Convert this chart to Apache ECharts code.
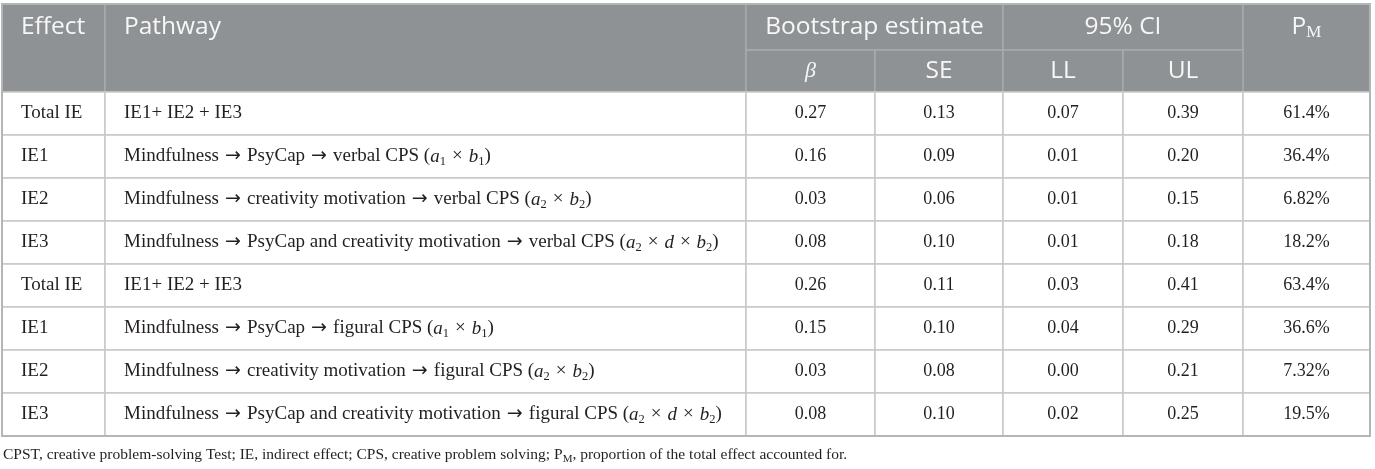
<!DOCTYPE html>
<html>
<head>
<meta charset="utf-8">
<script src="https://cdn.jsdelivr.net/npm/echarts@6/dist/echarts.min.js"></script>
<style>
    html, body { margin: 0; padding: 0; background: #fff; }
    #table-chart { width: 1375px; height: 469px; }
</style>
</head>
<body>
<div id="table-chart"></div>
<script>
// 表格数据
const effects = ["Total IE", "IE1", "IE2", "IE3", "Total IE", "IE1", "IE2", "IE3"]
const pathways = [
    "IE1+ IE2 + IE3",
    "Mindfulness → PsyCap → verbal CPS (a1 × b1)",
    "Mindfulness → creativity motivation → verbal CPS (a2 × b2)",
    "Mindfulness → PsyCap and creativity motivation → verbal CPS (a2 × d × b2)",
    "IE1+ IE2 + IE3",
    "Mindfulness → PsyCap → figural CPS (a1 × b1)",
    "Mindfulness → creativity motivation → figural CPS (a2 × b2)",
    "Mindfulness → PsyCap and creativity motivation → figural CPS (a2 × d × b2)",
]
const beta = [0.27, 0.16, 0.03, 0.08, 0.26, 0.15, 0.03, 0.08]
const se = [0.13, 0.09, 0.06, 0.10, 0.11, 0.10, 0.08, 0.10]
const ll = [0.07, 0.01, 0.01, 0.01, 0.03, 0.04, 0.00, 0.02]
const ul = [0.39, 0.20, 0.15, 0.18, 0.41, 0.29, 0.21, 0.25]
const pm = [61.4, 36.4, 6.82, 18.2, 63.4, 36.6, 7.32, 19.5]
const footnote = "CPST, creative problem-solving Test; IE, indirect effect; CPS, creative problem solving; P{fsub|M}, proportion of the total effect accounted for."

// 布局
const W = 1375, H = 469
const colEdges = [2, 105, 746, 875, 1003, 1123, 1243, 1370]
const headTop = 4, headMid = 50, headBottom = 92, rowH = 43
const padLeft = 19

const serif = "'Liberation Serif', 'Times New Roman', serif"
const sans = "'Open Sans', 'Noto Sans', sans-serif"
const headFill = "#8e9294", headLine = "#a6aaac", headText = "#f7f7f7"
const bodyLine = "#c6c9c8", bodyText = "#231f20"
const textSize = 19, numSize = 18, headSize = 24.5

// 箭头和公式部分 (a1 × b1) 转成富文本
function formula(s) {
    return s
        .replace(/\(([^)]*)\)/, (m, inner) =>
            "(" + inner
                .replace(/([abd])(\d?)/g, (t, v, n) => "{it|" + v + "}" + (n ? "{sub|" + n + "}" : ""))
                .replace(/ × /g, "{x|×}") + ")")
        .replace(/ → /g, "{arr| → }")
}

const cells = []
function cell(c0, c1, y0, y1, text, opt) {
    cells.push(Object.assign({ x0: colEdges[c0], x1: colEdges[c1], y0, y1, text }, opt))
}
// 表头
cell(0, 1, headTop, headBottom, "Effect", { head: true, align: "left", ty: (headTop + headMid) / 2 })
cell(1, 2, headTop, headBottom, "Pathway", { head: true, align: "left", ty: (headTop + headMid) / 2 })
cell(2, 4, headTop, headMid, "Bootstrap estimate", { head: true })
cell(4, 6, headTop, headMid, "95% CI", { head: true })
cell(6, 7, headTop, headBottom, "P{hsub|M}", { head: true, ty: (headTop + headMid) / 2 })
cell(2, 3, headMid, headBottom, "{beta|β}", { head: true })
cell(3, 4, headMid, headBottom, "SE", { head: true })
cell(4, 5, headMid, headBottom, "LL", { head: true })
cell(5, 6, headMid, headBottom, "UL", { head: true })
// 数据行
effects.forEach((e, i) => {
    const y0 = headBottom + i * rowH, y1 = y0 + rowH
    cell(0, 1, y0, y1, e, { align: "left", fs: textSize })
    cell(1, 2, y0, y1, formula(pathways[i]), { align: "left", fs: textSize })
    cell(2, 3, y0, y1, beta[i].toFixed(2))
    cell(3, 4, y0, y1, se[i].toFixed(2))
    cell(4, 5, y0, y1, ll[i].toFixed(2))
    cell(5, 6, y0, y1, ul[i].toFixed(2))
    cell(6, 7, y0, y1, pm[i] + "%")
})

const rich = {
    it: { fontFamily: serif, fontStyle: "italic", fontSize: textSize, lineHeight: 24, fill: bodyText },
    sub: { fontFamily: serif, fontSize: 12.5, lineHeight: 13, verticalAlign: "bottom", fill: bodyText },
    x: { fontFamily: serif, fontSize: textSize, lineHeight: 24, padding: [0, 6, 0, 6], fill: bodyText },
    arr: { fontFamily: "'DejaVu Sans', sans-serif", fontSize: 19, lineHeight: 24, fill: bodyText },
    hsub: { fontFamily: serif, fontSize: 17, lineHeight: 16, verticalAlign: "bottom", fill: headText },
    beta: { fontFamily: serif, fontStyle: "italic", fontSize: 22, lineHeight: 28, fill: headText },
    fsub: { fontFamily: serif, fontSize: 11, lineHeight: 12, verticalAlign: "bottom", fill: bodyText },
}

const chart = echarts.init(document.getElementById("table-chart"), null, { renderer: "canvas" })
chart.setOption({
    animation: false,
    grid: { left: 0, right: 0, top: 0, bottom: 0 },
    xAxis: { type: "value", min: 0, max: W, show: false },
    yAxis: { type: "value", min: 0, max: H, inverse: true, show: false },
    series: [{
        type: "custom",
        coordinateSystem: "cartesian2d",
        encode: { x: [0, 2], y: [1, 3] },
        data: cells.map(c => [c.x0, c.y0, c.x1, c.y1]),
        renderItem(params, api) {
            const c = cells[params.dataIndex]
            const p0 = api.coord([api.value(0), api.value(1)])
            const p1 = api.coord([api.value(2), api.value(3)])
            const ty = c.ty != null ? api.coord([0, c.ty])[1] : (p0[1] + p1[1]) / 2
            const tx = c.align === "left" ? p0[0] + padLeft : (p0[0] + p1[0]) / 2
            return {
                type: "group",
                children: [
                    {
                        type: "rect",
                        shape: { x: p0[0], y: p0[1], width: p1[0] - p0[0], height: p1[1] - p0[1] },
                        style: { fill: c.head ? headFill : "#fff", stroke: c.head ? headLine : bodyLine, lineWidth: 1.5 },
                    },
                    {
                        type: "text",
                        x: tx,
                        y: ty,
                        style: {
                            text: c.text,
                            fontFamily: c.head ? sans : serif,
                            fontSize: c.head ? headSize : (c.fs || numSize),
                            lineHeight: c.head ? 28 : 24,
                            fill: c.head ? headText : bodyText,
                            align: c.align || "center",
                            verticalAlign: "middle",
                            rich,
                        },
                    },
                ],
            }
        },
    }],
    graphic: [
        {
            type: "rect",
            shape: { x: colEdges[0], y: headTop, width: colEdges[7] - colEdges[0], height: headBottom + rowH * effects.length - headTop },
            style: { fill: "none", stroke: "#b2b6b5", lineWidth: 2 },
            z: 10,
        },
        {
            type: "text",
            left: 3,
            top: 445,
            style: {
                text: footnote,
                fontFamily: serif,
                fontSize: 15.5,
                lineHeight: 20,
                fill: bodyText,
                rich,
            },
        },
    ],
})
</script>
</body>
</html>
